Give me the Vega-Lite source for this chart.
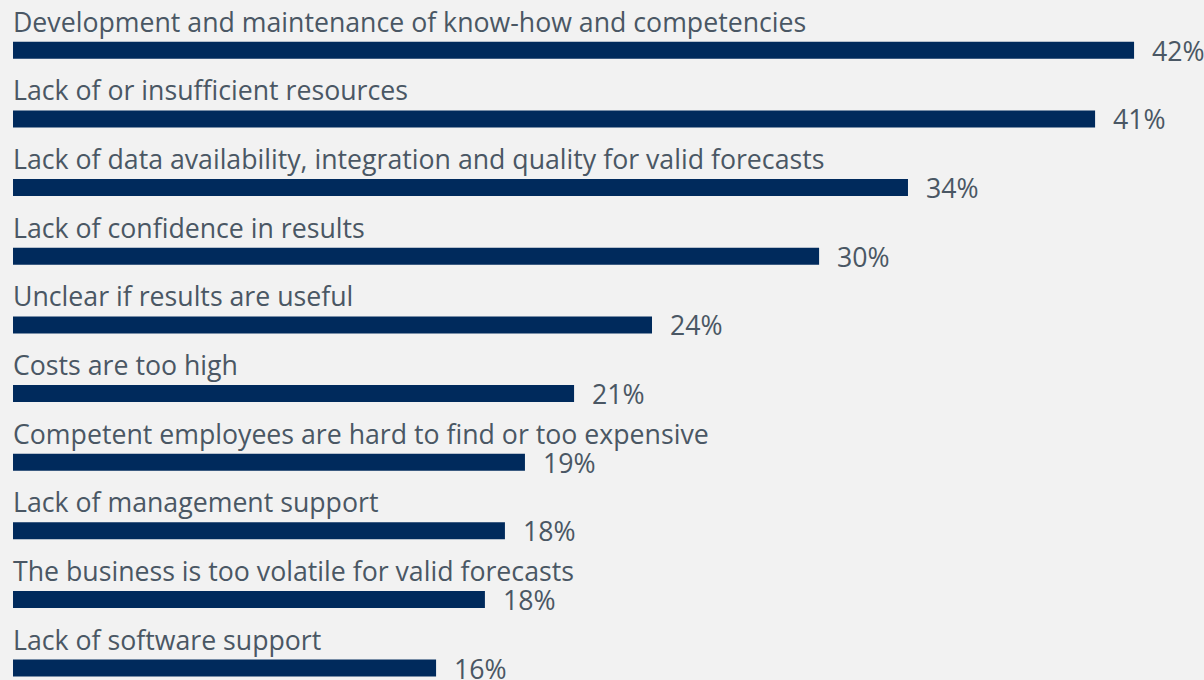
{
  "$schema": "https://vega.github.io/schema/vega-lite/v6.json",
  "width": 1191,
  "height": 686.4,
  "autosize": {"type": "none"},
  "padding": {"left": 13, "top": 16, "right": 0, "bottom": 0},
  "background": "#f2f2f2",
  "config": {"view": {"stroke": null}, "font": "Open Sans"},
  "data": {
    "values": [
      {"category": "Development and maintenance of know-how and competencies", "value": 42.0, "label": "42%"},
      {"category": "Lack of or insufficient resources", "value": 40.54, "label": "41%"},
      {"category": "Lack of data availability, integration and quality for valid forecasts", "value": 33.53, "label": "34%"},
      {"category": "Lack of confidence in results", "value": 30.2, "label": "30%"},
      {"category": "Unclear if results are useful", "value": 23.94, "label": "24%"},
      {"category": "Costs are too high", "value": 21.02, "label": "21%"},
      {"category": "Competent employees are hard to find or too expensive", "value": 19.18, "label": "19%"},
      {"category": "Lack of management support", "value": 18.43, "label": "18%"},
      {"category": "The business is too volatile for valid forecasts", "value": 17.68, "label": "18%"},
      {"category": "Lack of software support", "value": 15.85, "label": "16%"}
    ]
  },
  "encoding": {
    "y": {
      "field": "category",
      "type": "nominal",
      "sort": null,
      "axis": null,
      "scale": {"paddingInner": 0, "paddingOuter": 0}
    }
  },
  "layer": [
    {
      "mark": {"type": "bar", "color": "#002a5c", "size": 17},
      "encoding": {
        "x": {"field": "value", "type": "quantitative", "axis": null, "scale": {"domain": [0, 44.62], "nice": false, "zero": true}}
      }
    },
    {
      "mark": {"type": "text", "align": "left", "baseline": "alphabetic", "dx": 18, "dy": 10.5, "fontSize": 26.7, "color": "#4a5764"},
      "encoding": {
        "x": {"field": "value", "type": "quantitative"},
        "text": {"field": "label"}
      }
    },
    {
      "mark": {"type": "text", "align": "left", "baseline": "alphabetic", "dx": 0, "dy": -18.5, "fontSize": 26.7, "color": "#4a5764"},
      "encoding": {
        "x": {"datum": 0, "type": "quantitative"},
        "text": {"field": "category"}
      }
    }
  ]
}
